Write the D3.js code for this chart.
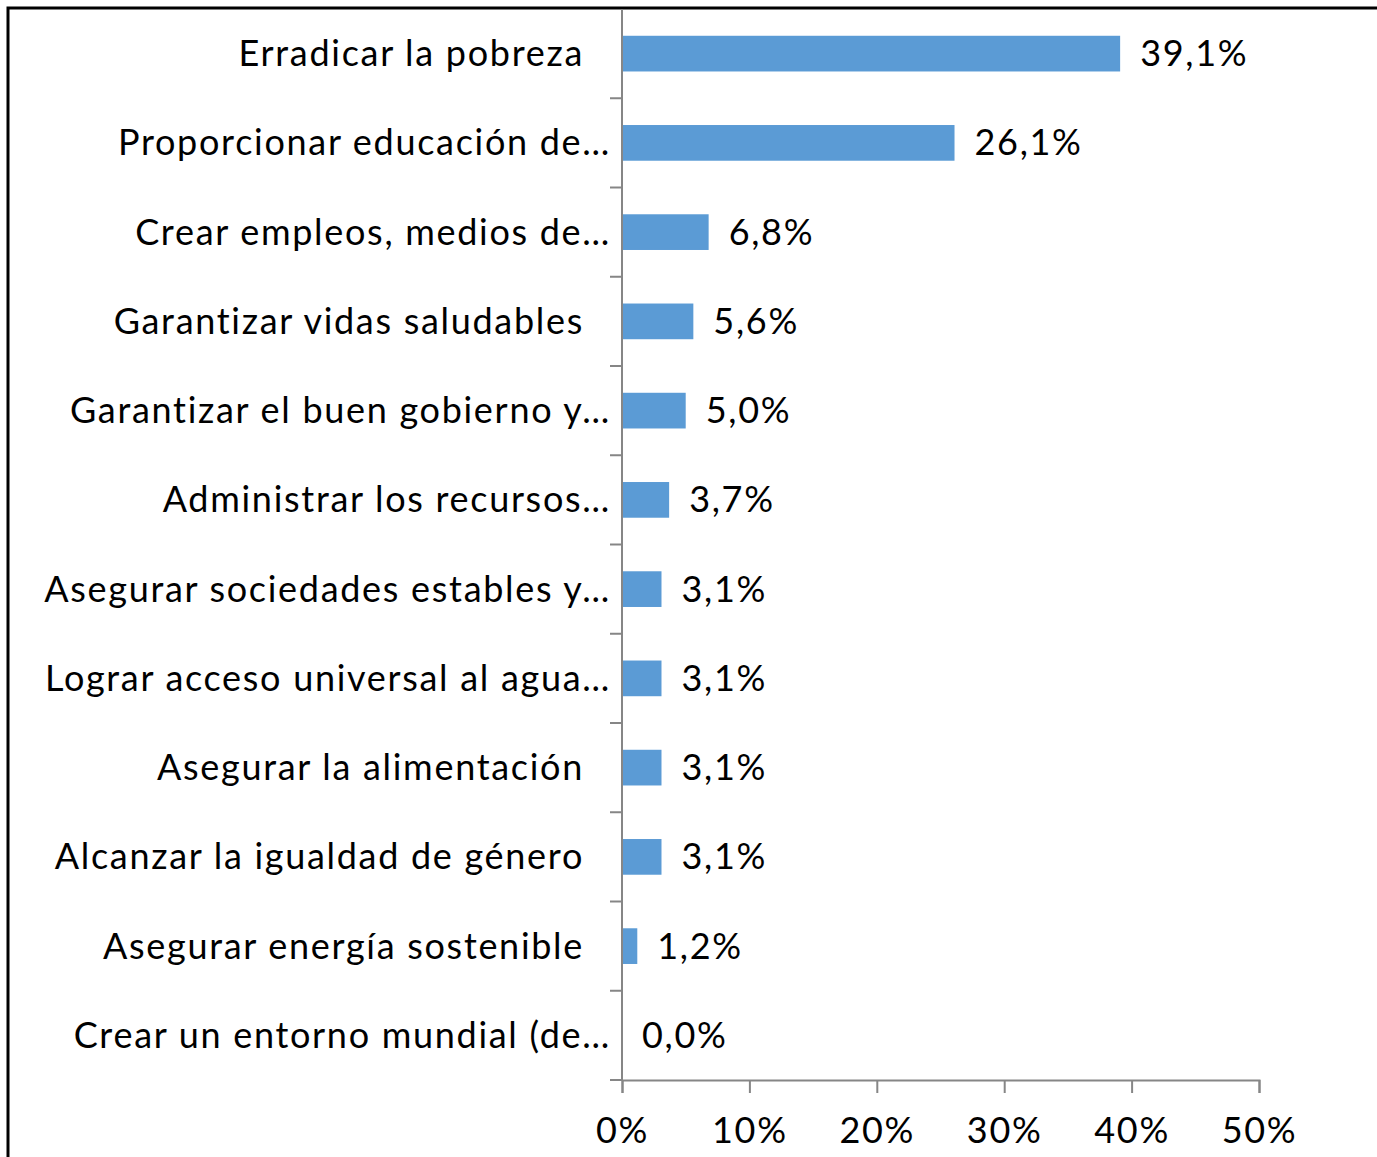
<!DOCTYPE html>
<html>
<head>
<meta charset="utf-8">
<script src="https://cdn.jsdelivr.net/npm/d3@7"></script>
<style>
  body { margin: 0; background: #fff; }
  svg { display: block; }
</style>
</head>
<body>
<div id="chart"></div>
<script>
// data
const categories = [
  "Erradicar la pobreza",
  "Proporcionar educación de…",
  "Crear empleos, medios de…",
  "Garantizar vidas saludables",
  "Garantizar el buen gobierno y…",
  "Administrar los recursos…",
  "Asegurar sociedades estables y…",
  "Lograr acceso universal al agua…",
  "Asegurar la alimentación",
  "Alcanzar la igualdad de género",
  "Asegurar energía sostenible",
  "Crear un entorno mundial (de…"
];
const values = [39.1, 26.1, 6.8, 5.6, 5.0, 3.7, 3.1, 3.1, 3.1, 3.1, 1.2, 0.0];
const tickValues = [0, 10, 20, 30, 40, 50];

const W = 1377, H = 1157;
const axisX = 622, plotRight = 1259;
const plotTop = 9, plotBottom = 1080;
const font = "Lato, 'Open Sans', sans-serif";
const fontSize = "36px";
const spacing = "1.7px";
const axisColor = "#868686";

const svg = d3.select("#chart")
  .append("svg")
    .attr("width", W)
    .attr("height", H);

// frame of the chart area (right/bottom edges fall outside the picture)
svg.append("rect")
  .attr("x", 8).attr("y", 8)
  .attr("width", W + 20).attr("height", H + 20)
  .attr("fill", "none")
  .attr("stroke", "#000")
  .attr("stroke-width", 3);

const x = d3.scaleLinear().domain([0, 50]).range([axisX, plotRight]);
const y = d3.scaleBand()
  .domain(categories)
  .range([plotTop, plotBottom])
  .paddingInner(0.6)
  .paddingOuter(0.3);

// bars
svg.selectAll("rect.bar")
  .data(values)
  .join("rect")
    .attr("class", "bar")
    .attr("x", x(0))
    .attr("y", (d, i) => y(categories[i]))
    .attr("width", d => x(d) - x(0))
    .attr("height", y.bandwidth())
    .attr("fill", "#5B9BD5");

// category labels, truncated ones sit closer to the axis
svg.selectAll("text.cat")
  .data(categories)
  .join("text")
    .attr("class", "cat")
    .attr("x", d => d.endsWith("…") ? axisX - 11 : axisX - 38)
    .attr("y", d => y(d) + y.bandwidth() / 2)
    .attr("dy", "0.35em")
    .attr("text-anchor", "end")
    .style("font-family", font)
    .style("font-size", fontSize)
    .style("letter-spacing", spacing)
    .style("fill", "#000")
    .text(d => d);

// value labels
svg.selectAll("text.val")
  .data(values)
  .join("text")
    .attr("class", "val")
    .attr("x", d => x(d) + 20)
    .attr("y", (d, i) => y(categories[i]) + y.bandwidth() / 2)
    .attr("dy", "0.35em")
    .style("font-family", font)
    .style("font-size", fontSize)
    .style("letter-spacing", spacing)
    .style("fill", "#000")
    .text(d => d.toFixed(1).replace(".", ",") + "%");

// y axis line + ticks at band boundaries
const step = y.step();
const bounds = d3.range(categories.length + 1).map(i => plotTop + i * step);
svg.append("line")
  .attr("x1", axisX).attr("x2", axisX)
  .attr("y1", plotTop).attr("y2", plotBottom)
  .attr("stroke", axisColor).attr("stroke-width", 2);
svg.selectAll("line.ytick")
  .data(bounds.slice(1))
  .join("line")
    .attr("class", "ytick")
    .attr("x1", axisX - 12).attr("x2", axisX)
    .attr("y1", d => d).attr("y2", d => d)
    .attr("stroke", axisColor).attr("stroke-width", 2);

// x axis
const xAxis = svg.append("g")
  .attr("transform", `translate(0,${plotBottom})`)
  .call(d3.axisBottom(x)
    .tickValues(tickValues)
    .tickSize(13)
    .tickPadding(24)
    .tickFormat(d => d + "%"));
xAxis.select(".domain").attr("stroke", axisColor).attr("stroke-width", 2);
xAxis.selectAll(".tick line").attr("stroke", axisColor).attr("stroke-width", 2);
xAxis.selectAll(".tick text")
  .style("font-family", font)
  .style("font-size", fontSize)
  .style("letter-spacing", spacing)
  .attr("fill", "#000");
</script>
</body>
</html>
